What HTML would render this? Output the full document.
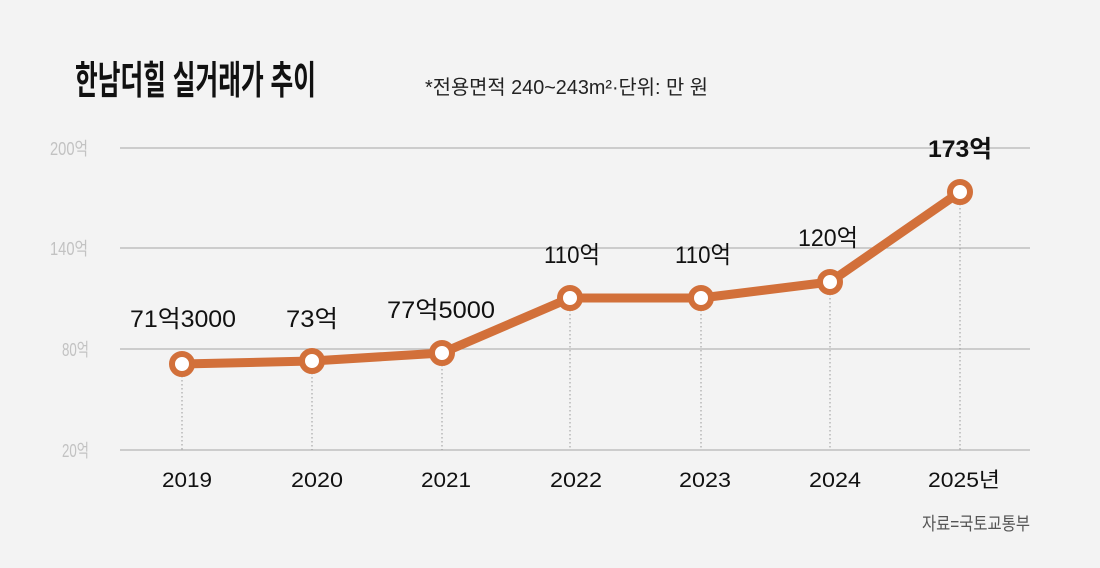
<!DOCTYPE html>
<html><head><meta charset="utf-8"><style>
html,body{margin:0;padding:0;background:#f3f3f3;}
svg{display:block;font-family:"Liberation Sans","Noto Sans CJK KR",sans-serif;}
</style></head><body>
<svg width="1100" height="568" viewBox="0 0 1100 568" xmlns="http://www.w3.org/2000/svg">
<rect width="1100" height="568" fill="#f3f3f3"/>
<text x="75" y="94" font-size="39" font-weight="bold" fill="#111" textLength="241" lengthAdjust="spacingAndGlyphs">한남더힐 실거래가 추이</text>
<text x="425" y="94" font-size="20" fill="#222" textLength="283" lengthAdjust="spacingAndGlyphs">*전용면적 240~243m²·단위: 만 원</text>
<g stroke="#b5b5b5" stroke-width="1.2">
<line x1="120" y1="148" x2="1030" y2="148"/>
<line x1="120" y1="248" x2="1030" y2="248"/>
<line x1="120" y1="349" x2="1030" y2="349"/>
<line x1="120" y1="450" x2="1030" y2="450"/>
</g>
<g font-size="18" fill="#c2c2c2">
<text x="50" y="155" textLength="38" lengthAdjust="spacingAndGlyphs">200억</text>
<text x="50" y="255" textLength="38" lengthAdjust="spacingAndGlyphs">140억</text>
<text x="62" y="356" textLength="27" lengthAdjust="spacingAndGlyphs">80억</text>
<text x="62" y="457" textLength="27" lengthAdjust="spacingAndGlyphs">20억</text>
</g>
<g stroke="#999" stroke-width="1" stroke-dasharray="1.5,2.5">
<line x1="182" y1="364" x2="182" y2="450"/>
<line x1="312" y1="361" x2="312" y2="450"/>
<line x1="442" y1="353" x2="442" y2="450"/>
<line x1="570" y1="298" x2="570" y2="450"/>
<line x1="701" y1="298" x2="701" y2="450"/>
<line x1="830" y1="282" x2="830" y2="450"/>
<line x1="960" y1="192" x2="960" y2="450"/>
</g>
<polyline points="182,364 312,361 442,353 570,298 701,298 830,282 960,192" fill="none" stroke="#d2703a" stroke-width="9" stroke-linejoin="round" stroke-linecap="round"/>
<g fill="#fff" stroke="#d2703a" stroke-width="6">
<circle cx="182" cy="364" r="10"/><circle cx="312" cy="361" r="10"/><circle cx="442" cy="353" r="10"/>
<circle cx="570" cy="298" r="10"/><circle cx="701" cy="298" r="10"/><circle cx="830" cy="282" r="10"/>
<circle cx="960" cy="192" r="10"/>
</g>
<g font-size="24" fill="#111" text-anchor="middle">
<text x="183" y="327" textLength="106" lengthAdjust="spacingAndGlyphs">71억3000</text>
<text x="312" y="327" textLength="52" lengthAdjust="spacingAndGlyphs">73억</text>
<text x="441" y="318" textLength="108" lengthAdjust="spacingAndGlyphs">77억5000</text>
<text x="572" y="263" textLength="56" lengthAdjust="spacingAndGlyphs">110억</text>
<text x="703" y="263" textLength="56" lengthAdjust="spacingAndGlyphs">110억</text>
<text x="828" y="246" textLength="60" lengthAdjust="spacingAndGlyphs">120억</text>
<text x="960" y="157" font-weight="bold" textLength="64" lengthAdjust="spacingAndGlyphs">173억</text>
</g>
<g font-size="21" fill="#111" text-anchor="middle">
<text x="187" y="487" textLength="50" lengthAdjust="spacingAndGlyphs">2019</text>
<text x="317" y="487" textLength="52" lengthAdjust="spacingAndGlyphs">2020</text>
<text x="446" y="487" textLength="50" lengthAdjust="spacingAndGlyphs">2021</text>
<text x="576" y="487" textLength="52" lengthAdjust="spacingAndGlyphs">2022</text>
<text x="705" y="487" textLength="52" lengthAdjust="spacingAndGlyphs">2023</text>
<text x="835" y="487" textLength="52" lengthAdjust="spacingAndGlyphs">2024</text>
<text x="964" y="487" textLength="72" lengthAdjust="spacingAndGlyphs">2025년</text>
</g>
<text x="922" y="530" font-size="18" fill="#555" textLength="108" lengthAdjust="spacingAndGlyphs">자료=국토교통부</text>
</svg>
</body></html>
